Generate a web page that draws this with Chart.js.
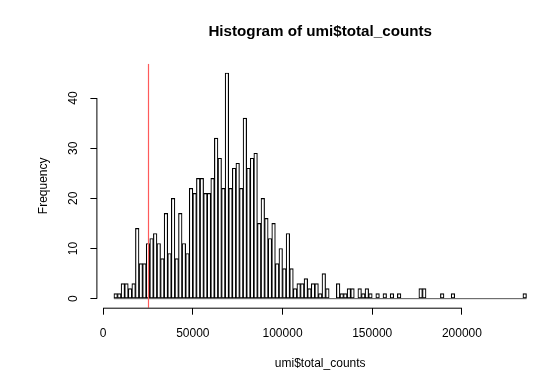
<!DOCTYPE html>
<html>
<head>
<meta charset="utf-8">
<script src="https://cdn.jsdelivr.net/npm/chart.js@4.4.0/dist/chart.umd.min.js"></script>
<style>
    body { margin: 0; background: #ffffff; overflow: hidden; }
    #histograma { display: block; }
</style>
</head>
<body>
<canvas id="histograma" width="543" height="371"></canvas>
<script>
// bins de 2000, desde 6000 hasta 236000
const binInicio = 6000;
const binAncho = 2000;
const frecuencias = [
    1, 1, 3, 3, 2, 3, 14, 7, 7, 11,
    12, 13, 11, 8, 17, 9, 20, 8, 17, 11,
    9, 22, 21, 24, 24, 21, 21, 24, 32, 28,
    22, 45, 22, 26, 27, 22, 36, 26, 28, 29,
    15, 20, 16, 12, 15, 7, 10, 6, 13, 6,
    2, 3, 3, 4, 2, 3, 3, 1, 5, 2,
    0, 0, 3, 1, 1, 2, 2, 0, 2, 1,
    2, 1, 0, 1, 0, 1, 0, 1, 0, 1,
    0, 0, 0, 0, 0, 2, 2, 0, 0, 0,
    0, 1, 0, 0, 1, 0, 0, 0, 0, 0,
    0, 0, 0, 0, 0, 0, 0, 0, 0, 0,
    0, 0, 0, 0, 1
];
const ticksX = [0, 50000, 100000, 150000, 200000];
const ticksY = [0, 10, 20, 30, 40];
const corte = 25000;

const fuente = "'Liberation Sans', Arial, Helvetica, sans-serif";

const centros = frecuencias.map((f, i) => binInicio + binAncho * i + binAncho / 2);
const datosBarras = frecuencias.map((f, i) => ({ x: centros[i], y: f }));
const finBins = binInicio + binAncho * frecuencias.length;

// ejes estilo R: la linea solo cubre del primer al ultimo tick, y la linea roja de corte
const ejesR = {
    id: 'ejesR',
    afterDatasetsDraw(chart) {
        const { ctx, chartArea, scales } = chart;
        const x = scales.x;
        const y = scales.y;
        ctx.save();
        ctx.strokeStyle = '#ff5a5a';
        ctx.lineWidth = 1.2;
        const xc = Math.round(x.getPixelForValue(corte)) + 0.5;
        ctx.beginPath();
        ctx.moveTo(xc, chartArea.top);
        ctx.lineTo(xc, chartArea.bottom);
        ctx.stroke();

        ctx.strokeStyle = '#000';
        ctx.lineWidth = 1;
        ctx.beginPath();
        ctx.moveTo(x.getPixelForValue(ticksX[0]), chartArea.bottom + 0.5);
        ctx.lineTo(x.getPixelForValue(ticksX[ticksX.length - 1]), chartArea.bottom + 0.5);
        ctx.moveTo(chartArea.left - 0.5, y.getPixelForValue(ticksY[0]));
        ctx.lineTo(chartArea.left - 0.5, y.getPixelForValue(ticksY[ticksY.length - 1]));
        ctx.stroke();
        ctx.restore();
    }
};

new Chart(document.getElementById('histograma'), {
    type: 'bar',
    data: {
        datasets: [
            {
                type: 'line',
                data: [{ x: binInicio, y: 0 }, { x: finBins, y: 0 }],
                borderColor: '#555',
                borderWidth: 1,
                pointRadius: 0
            },
            {
                data: datosBarras,
                backgroundColor: 'rgba(0,0,0,0)',
                borderColor: '#000',
                borderWidth: 0.5,
                borderSkipped: false,
                barPercentage: 1,
                categoryPercentage: 1
            }
        ]
    },
    options: {
        responsive: false,
        animation: false,
        // la region de dibujo de R se sale un poco por la derecha
        layout: { padding: { top: 0, right: -3.4, bottom: 0, left: 0 } },
        scales: {
            x: {
                type: 'linear',
                min: -3200,
                max: 245200,
                offset: false,
                afterFit: s => { s.height = 63.3; },
                afterBuildTicks: s => { s.ticks = ticksX.map(v => ({ value: v })); },
                border: { display: false },
                grid: { offset: false, drawOnChartArea: false, drawTicks: true, tickLength: 7, color: '#000', lineWidth: 1 },
                ticks: {
                    color: '#000',
                    padding: 12,
                    maxRotation: 0,
                    font: { family: fuente, size: 12 },
                    callback: v => String(v)
                },
                title: {
                    display: true,
                    text: 'umi$total_counts',
                    color: '#000',
                    font: { family: fuente, size: 12 },
                    padding: { top: 0, bottom: 0 }
                }
            },
            y: {
                min: -1.8,
                max: 46.8,
                afterFit: s => { s.width = 97.4; },
                afterBuildTicks: s => { s.ticks = ticksY.map(v => ({ value: v })); },
                border: { display: false },
                grid: { drawOnChartArea: false, drawTicks: true, tickLength: 7, color: '#000', lineWidth: 1 },
                ticks: {
                    color: '#000',
                    padding: 10,
                    minRotation: 90,
                    maxRotation: 90,
                    crossAlign: 'center',
                    font: { family: fuente, size: 12 },
                    callback: v => String(v)
                },
                title: {
                    display: true,
                    text: 'Frequency',
                    color: '#000',
                    font: { family: fuente, size: 12 },
                    padding: { top: 36, bottom: 0 }
                }
            }
        },
        plugins: {
            legend: { display: false },
            tooltip: { enabled: false },
            title: {
                display: true,
                fullSize: false,
                text: 'Histogram of umi$total_counts',
                color: '#000',
                font: { family: fuente, size: 15.2, weight: 'bold' },
                padding: { top: 22.9, bottom: 22.8 }
            }
        }
    },
    plugins: [ejesR]
});
</script>
</body>
</html>
